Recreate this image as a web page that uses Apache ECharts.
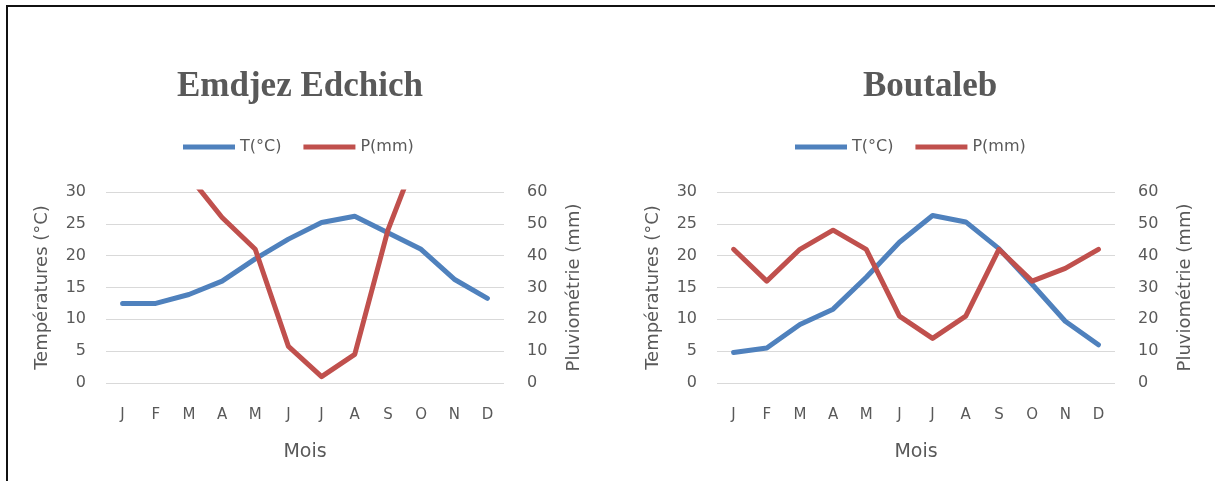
<!DOCTYPE html>
<html>
<head>
<meta charset="utf-8">
<script src="https://cdn.jsdelivr.net/npm/echarts@6/dist/echarts.min.js"></script>
<style>
html,body{margin:0;padding:0;background:#fff;}
#c{width:1215px;height:481px;}
</style>
</head>
<body>
<div id="c"></div>
<script>
const months = ['J','F','M','A','M','J','J','A','S','O','N','D'];
const titles = ['Emdjez Edchich', 'Boutaleb'];
const seriesNames = ['T(°C)', 'P(mm)'];
// Emdjez Edchich
const tempEmdjez = [12.5, 12.5, 13.9, 16.0, 19.5, 22.6, 25.2, 26.2, 23.6, 21.0, 16.3, 13.3];
const rainEmdjez = [95, 80, 65, 52, 42, 11.5, 2, 9, 48, 75, 90, 100];
// Boutaleb
const tempBoutaleb = [4.8, 5.5, 9.2, 11.6, 16.6, 22.1, 26.3, 25.3, 21.1, 15.5, 9.7, 6.0];
const rainBoutaleb = [42, 32, 42, 48, 42, 21, 14, 21, 42, 32, 36, 42];

const BLUE = '#4F81BD', RED = '#C0504D', TXT = '#595959', GRID = '#d9d9d9';
const FONT = '"DejaVu Sans", sans-serif';

const gridLefts = [106, 717];
const titleLefts = [172, 858];
const legendLefts = [178, 790];

const grids = [], xAxes = [], yAxes = [], series = [], titleArr = [], legends = [];
const temps = [tempEmdjez, tempBoutaleb];
const rains = [rainEmdjez, rainBoutaleb];

for (let i = 0; i < 2; i++) {
  grids.push({left: gridLefts[i], width: 398, top: 192, height: 191});
  titleArr.push({
    text: titles[i], left: titleLefts[i], top: 64,
    textStyle: {fontFamily: '"Liberation Serif", "Times New Roman", serif', fontWeight: 'bold', fontSize: 35, color: TXT}
  });
  legends.push({
    data: seriesNames, left: legendLefts[i], top: 134, icon: 'rect',
    itemWidth: 52, itemHeight: 5, itemGap: 22, selectedMode: false,
    textStyle: {fontFamily: FONT, fontSize: 16, color: TXT}
  });
  xAxes.push({
    type: 'category', gridIndex: i, data: months, boundaryGap: true,
    name: 'Mois', nameLocation: 'middle', nameGap: 60,
    nameTextStyle: {fontFamily: FONT, fontSize: 19, color: TXT},
    axisLine: {show: false}, axisTick: {show: false},
    axisLabel: {margin: 25, fontFamily: FONT, fontSize: 15, color: TXT}
  });
  yAxes.push({
    type: 'value', gridIndex: i, min: 0, max: 30, interval: 5, position: 'left',
    name: 'Températures (°C)', nameLocation: 'middle', nameGap: 55, nameRotate: 90,
    nameTextStyle: {fontFamily: FONT, fontSize: 18, color: TXT},
    axisLine: {show: false}, axisTick: {show: false},
    axisLabel: {margin: 20, fontFamily: FONT, fontSize: 16, color: TXT},
    splitLine: {show: true, lineStyle: {color: GRID, width: 1}}
  });
  yAxes.push({
    type: 'value', gridIndex: i, min: 0, max: 60, interval: 10, position: 'right',
    name: 'Pluviométrie (mm)', nameLocation: 'middle', nameGap: 61, nameRotate: 90,
    nameTextStyle: {fontFamily: FONT, fontSize: 18, color: TXT},
    axisLine: {show: false}, axisTick: {show: false},
    axisLabel: {margin: 23, fontFamily: FONT, fontSize: 16, color: TXT},
    splitLine: {show: false}
  });
  series.push({
    name: seriesNames[0], type: 'line', xAxisIndex: i, yAxisIndex: i*2,
    data: temps[i], showSymbol: false, symbol: 'none', clip: true,
    lineStyle: {color: BLUE, width: 5, cap: 'round', join: 'round'}, itemStyle: {color: BLUE}
  });
  series.push({
    name: seriesNames[1], type: 'line', xAxisIndex: i, yAxisIndex: i*2+1,
    data: rains[i], showSymbol: false, symbol: 'none', clip: true,
    lineStyle: {color: RED, width: 5, cap: 'round', join: 'round'}, itemStyle: {color: RED}
  });
}

const chart = echarts.init(document.getElementById('c'), null, {renderer: 'canvas'});
chart.setOption({
  animation: false,
  backgroundColor: '#fff',
  title: titleArr,
  legend: legends,
  grid: grids,
  xAxis: xAxes,
  yAxis: yAxes,
  series: series,
  graphic: [
    {type: 'line', shape: {x1: 7, y1: 6, x2: 7, y2: 481}, style: {stroke: '#111', lineWidth: 2}},
    {type: 'line', shape: {x1: 6, y1: 6, x2: 1215, y2: 6}, style: {stroke: '#111', lineWidth: 2}}
  ]
});
</script>
</body>
</html>
